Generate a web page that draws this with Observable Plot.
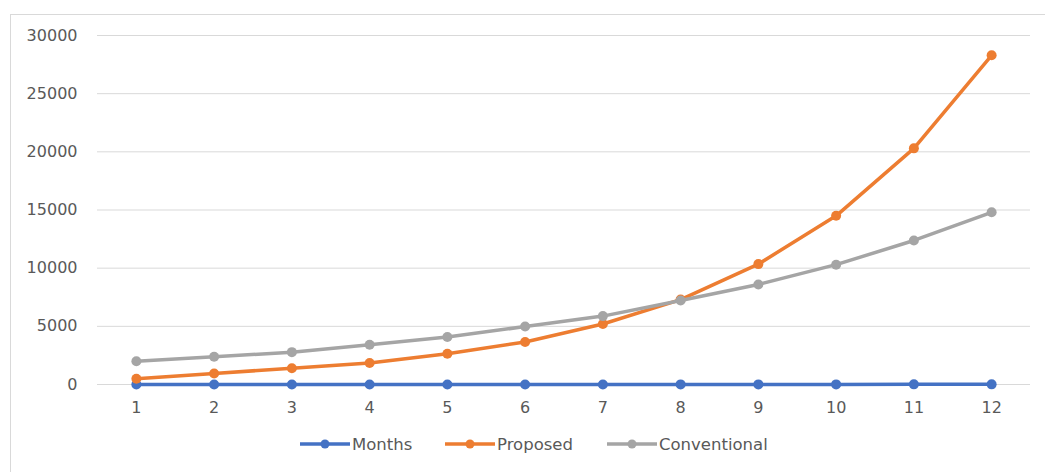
<!DOCTYPE html>
<html>
<head>
<meta charset="utf-8">
<script src="https://cdn.jsdelivr.net/npm/d3@7"></script>
<script src="https://cdn.jsdelivr.net/npm/@observablehq/plot@0.6"></script>
<style>
  html, body { margin: 0; padding: 0; background: #fff; overflow: hidden; }
  #wrap { position: relative; width: 1045px; height: 472px; font-family: "DejaVu Sans", sans-serif; }
  #frame { position: absolute; left: 10px; top: 14px; width: 1100px; height: 500px; border: 1px solid #d9d9d9; box-sizing: border-box; }
  #chart { position: absolute; left: 0; top: 0; }
  #legend { position: absolute; left: 0; top: 434px; width: 1045px; height: 20px; font-size: 16.5px; color: #595959; }
  .item { position: absolute; top: 0; display: flex; align-items: center; height: 20px; }
  .item svg { display: block; margin-right: 2px; }
</style>
</head>
<body>
<div id="wrap">
  <div id="frame"></div>
  <div id="chart"></div>
  <div id="legend"></div>
</div>
<script>
const months = [1, 2, 3, 4, 5, 6, 7, 8, 9, 10, 11, 12];
const seriesNames = ["Months", "Proposed", "Conventional"];
const seriesColors = ["#4472C4", "#ED7D31", "#A5A5A5"];
const monthsValues = [1, 2, 3, 4, 5, 6, 7, 8, 9, 10, 11, 12];
const proposed = [500, 950, 1400, 1850, 2650, 3650, 5200, 7300, 10350, 14500, 20300, 28300];
const conventional = [2000, 2380, 2780, 3420, 4080, 4980, 5880, 7220, 8600, 10300, 12380, 14800];
const yTicks = [0, 5000, 10000, 15000, 20000, 25000, 30000];
const legendLeft = [300, 445, 607];

const valuesBySeries = [monthsValues, proposed, conventional];
const tables = seriesNames.map((s, i) => months.map((m, j) => ({ month: m, value: valuesBySeries[i][j], series: s })));

const marks = [
  Plot.gridY(yTicks, { stroke: "#d9d9d9", strokeOpacity: 1, strokeWidth: 1 }),
  Plot.axisY(yTicks, { tickSize: 0, tickPadding: 20, fontSize: 16, fill: "#595959", label: null, tickFormat: d => String(d) }),
  Plot.axisX(months, { tickSize: 0, tickPadding: 17, fontSize: 16, fill: "#595959", label: null })
];
tables.forEach((t, i) => {
  marks.push(Plot.line(t, { x: "month", y: "value", stroke: seriesColors[i], strokeWidth: 3.5 }));
  marks.push(Plot.dot(t, { x: "month", y: "value", fill: seriesColors[i], r: 5 }));
});

const chart = Plot.plot({
  width: 1045,
  height: 430,
  marginLeft: 97,
  marginRight: 15,
  marginTop: 35,
  marginBottom: 46,
  style: { background: "transparent", fontFamily: "DejaVu Sans, sans-serif", color: "#595959" },
  x: { type: "point", domain: months, padding: 0.5, round: false },
  y: { domain: [0, 30000] },
  marks
});
document.getElementById("chart").appendChild(chart);

const legend = document.getElementById("legend");
seriesNames.forEach((s, i) => {
  const item = document.createElement("div");
  item.className = "item";
  item.style.left = legendLeft[i] + "px";
  item.innerHTML = `<svg width="50" height="12"><line x1="0" y1="6" x2="50" y2="6" stroke="${seriesColors[i]}" stroke-width="3.5"/><circle cx="25" cy="6" r="4.5" fill="${seriesColors[i]}"/></svg><span>${s}</span>`;
  legend.appendChild(item);
});
</script>
</body>
</html>
